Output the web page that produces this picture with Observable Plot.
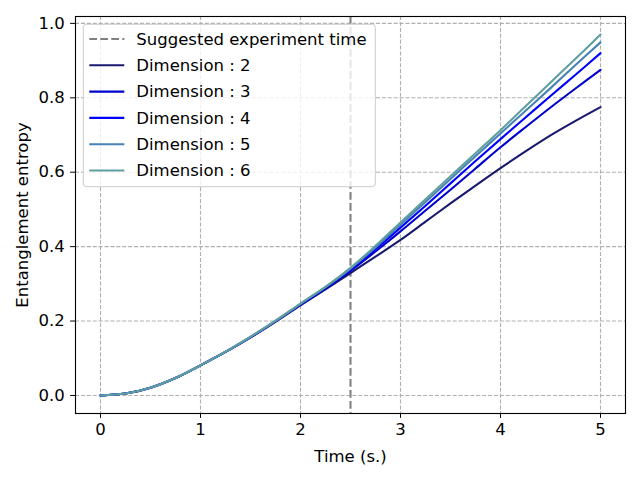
<!DOCTYPE html>
<html>
<head>
<meta charset="utf-8">
<script src="https://cdn.jsdelivr.net/npm/d3@7"></script>
<script src="https://cdn.jsdelivr.net/npm/@observablehq/plot@0.6"></script>
<style>
  html, body { margin: 0; padding: 0; background: #fff; }
  #chart svg { display: block; }
</style>
</head>
<body>
<div id="chart"></div>
<script>
const times = [0, 0.25, 0.5, 0.75, 1, 1.25, 1.5, 1.75, 2, 2.25, 2.5, 2.75, 3, 3.25, 3.5, 3.75, 4, 4.25, 4.5, 4.75, 5];
const dim2 = [0, 0.005, 0.021, 0.047, 0.081, 0.117, 0.156, 0.198, 0.242, 0.285, 0.329, 0.373, 0.418, 0.467, 0.516, 0.564, 0.611, 0.656, 0.699, 0.738, 0.775];
const dim3 = [0, 0.005, 0.021, 0.047, 0.081, 0.117, 0.156, 0.199, 0.244, 0.288, 0.335, 0.387, 0.441, 0.497, 0.553, 0.610, 0.667, 0.721, 0.774, 0.825, 0.875];
const dim4 = [0, 0.005, 0.021, 0.047, 0.081, 0.117, 0.157, 0.200, 0.245, 0.290, 0.338, 0.393, 0.451, 0.510, 0.570, 0.630, 0.689, 0.747, 0.805, 0.862, 0.920];
const dim5 = [0, 0.005, 0.021, 0.047, 0.081, 0.117, 0.157, 0.200, 0.246, 0.291, 0.341, 0.398, 0.459, 0.520, 0.582, 0.643, 0.704, 0.765, 0.826, 0.888, 0.949];
const dim6 = [0, 0.005, 0.021, 0.047, 0.081, 0.118, 0.158, 0.201, 0.247, 0.292, 0.343, 0.402, 0.465, 0.527, 0.589, 0.651, 0.713, 0.777, 0.841, 0.905, 0.970];
const seriesNames = ["Dimension : 2", "Dimension : 3", "Dimension : 4", "Dimension : 5", "Dimension : 6"];
const seriesColors = ["#191970", "#0000cd", "#0000ff", "#4682b4", "#5f9ea0"];
const suggestedTime = 2.5;
const suggestedLabel = "Suggested experiment time";
const xTicks = [0, 1, 2, 3, 4, 5];
const yTicks = [0, 0.2, 0.4, 0.6, 0.8, 1.0];

const allSeries = [dim2, dim3, dim4, dim5, dim6];
const rows = [];
allSeries.forEach((vals, i) => {
  vals.forEach((v, j) => rows.push({t: times[j], s: v, name: seriesNames[i]}));
});

const PX = 1.389; // points to px
const FS = 16.5;
const font = "DejaVu Sans, sans-serif";

const plot = Plot.plot({
  width: 640,
  height: 480,
  marginLeft: 75,
  marginRight: 15,
  marginTop: 16,
  marginBottom: 67,
  style: {fontFamily: font, fontSize: FS + "px", color: "black", background: "white"},
  x: {domain: [-0.25, 5.25]},
  y: {domain: [-0.0485, 1.0185]},
  color: {domain: seriesNames, range: seriesColors},
  marks: [
    Plot.gridX(xTicks, {stroke: "#b0b0b0", strokeOpacity: 1, strokeWidth: 0.8 * PX, strokeDasharray: "4.1,1.8"}),
    Plot.gridY(yTicks, {stroke: "#b0b0b0", strokeOpacity: 1, strokeWidth: 0.8 * PX, strokeDasharray: "4.1,1.8"}),
    Plot.ruleX([suggestedTime], {stroke: "#808080", strokeWidth: 1.5 * PX, strokeDasharray: "7.7,3.3"}),
    Plot.line(rows, {x: "t", y: "s", z: "name", stroke: "name", strokeWidth: 1.5 * PX, curve: "catmull-rom"}),
    Plot.axisX(xTicks, {tickSize: 3.5 * PX, tickPadding: 3.5 * PX, fontSize: FS, label: "Time (s.)", labelAnchor: "center", labelArrow: "none", labelOffset: 48, stroke: "black", fill: "black"}),
    Plot.axisY(yTicks, {tickSize: 3.5 * PX, tickPadding: 3.5 * PX + 1, fontSize: FS, tickFormat: d3.format(".1f"), label: "Entanglement entropy", labelAnchor: "center", labelArrow: "none", labelOffset: 59, stroke: "black", fill: "black"}),
    Plot.frame({stroke: "black", strokeWidth: 0.8 * PX})
  ]
});

// Legend inside the axes (upper left), drawn into the same SVG
const svg = d3.select(plot);
const legendEntries = [{label: suggestedLabel, color: "#808080", dash: "7.7,3.3"}]
  .concat(seriesNames.map((n, i) => ({label: n, color: seriesColors[i], dash: null})));
const lg = svg.append("g")
  .attr("font-family", font).attr("font-size", FS).attr("text-anchor", "start");
const lx = 83.3, ly = 24.3, lw = 292, rowH = 26.3;
lg.append("rect")
  .attr("x", lx).attr("y", ly).attr("width", lw).attr("height", 162.4)
  .attr("rx", 3).attr("fill", "white").attr("fill-opacity", 0.8)
  .attr("stroke", "#cccccc").attr("stroke-width", 1);
legendEntries.forEach((e, i) => {
  const cy = 39 + i * rowH;
  lg.append("line")
    .attr("x1", lx + 6).attr("x2", lx + 41).attr("y1", cy).attr("y2", cy)
    .attr("stroke", e.color).attr("stroke-width", 1.5 * PX)
    .attr("stroke-dasharray", e.dash);
  lg.append("text")
    .attr("x", lx + 53).attr("y", cy).attr("dy", "0.35em")
    .attr("text-anchor", "start")
    .attr("fill", "black").text(e.label);
});

document.getElementById("chart").appendChild(plot);
</script>
</body>
</html>
